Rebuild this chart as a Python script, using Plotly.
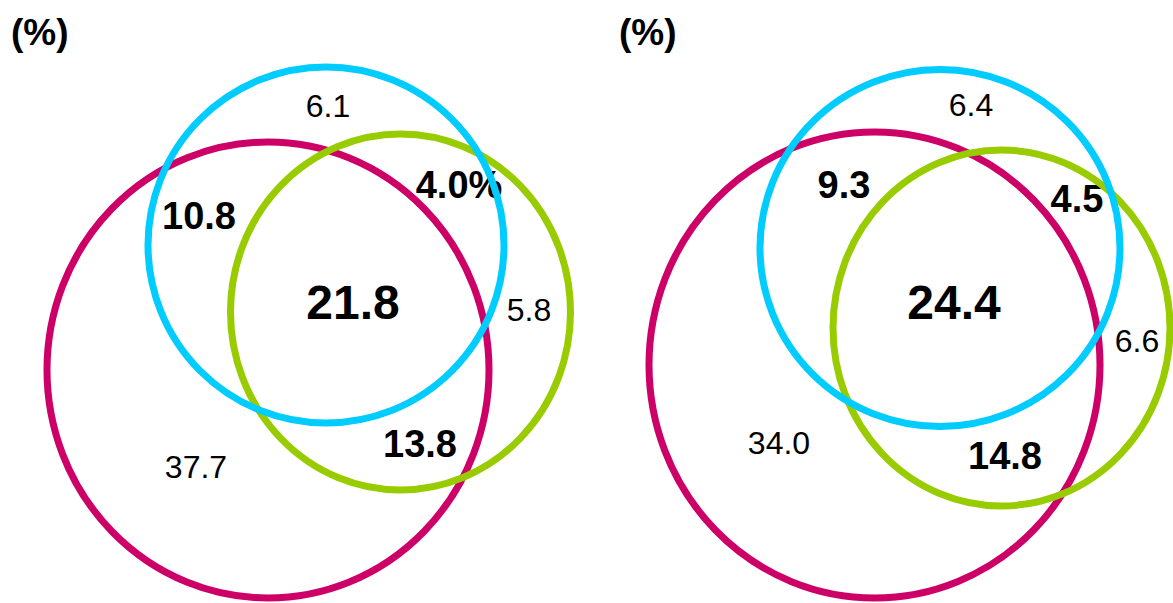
import plotly.graph_objects as go

# ---------------- data ----------------
region_keys = ["magenta_only", "cyan_only", "green_only",
               "magenta_cyan", "magenta_green", "cyan_green", "all_three"]
left_values = [37.7, 6.1, 5.8, 10.8, 13.8, 4.0, 21.8]
right_values = [34.0, 6.4, 6.6, 9.3, 14.8, 4.5, 24.4]
left_suffix = ["", "", "", "", "", "%", ""]
right_suffix = ["", "", "", "", "", "", ""]
unit_label = "(%)"

# ---------------- layout / geometry (pixels) ----------------
W, H = 1173, 603
set_colors = ["#CC0066", "#00CCFF", "#99CC00"]  # magenta, cyan, green
# circle geometry per panel: (cx, cy, rx, ry) for magenta, cyan, green
left_circles = [(268, 370, 221, 228), (326, 245, 178, 178), (400.5, 312, 170, 178)]
right_circles = [(874.5, 365, 225.5, 233), (940, 248, 180, 178.5), (1001.5, 328, 168.5, 178)]
left_label_xy = [(196, 470), (328, 109), (529, 313), (199, 219), (420, 447), (459, 188), (353, 307)]
right_label_xy = [(779, 446), (971, 108), (1137, 344), (844, 188), (1005, 459), (1077, 202), (954, 307)]
region_bold = [False, False, False, True, True, True, True]
region_size = [32, 32, 32, 38, 38, 38, 48]
unit_xy = [(40, 32), (648, 32)]

FONT = "Liberation Sans, Arial, sans-serif"

fig = go.Figure()

shapes = []
for circles in (left_circles, right_circles):
    for (cx, cy, rx, ry), col in zip([circles[0], circles[2], circles[1]],
                                     [set_colors[0], set_colors[2], set_colors[1]]):
        shapes.append(dict(type="circle", xref="x", yref="y",
                           x0=cx - rx, x1=cx + rx, y0=cy - ry, y1=cy + ry,
                           line=dict(color=col, width=7), fillcolor="rgba(0,0,0,0)",
                           layer="above"))

for values, suffix, xy in ((left_values, left_suffix, left_label_xy),
                           (right_values, right_suffix, right_label_xy)):
    texts = []
    for v, s, b in zip(values, suffix, region_bold):
        t = f"{v:.1f}{s}"
        texts.append(f"<b>{t}</b>" if b else t)
    fig.add_trace(go.Scatter(
        x=[p[0] for p in xy], y=[p[1] for p in xy], mode="text",
        text=texts, textposition="middle center",
        textfont=dict(family=FONT, size=region_size, color="#000000"),
        hoverinfo="skip", showlegend=False))

annotations = [dict(x=x, y=y, xref="x", yref="y", text=f"<b>{unit_label}</b>",
                    showarrow=False, font=dict(family=FONT, size=37, color="#000000"))
               for x, y in unit_xy]

fig.update_layout(
    width=W, height=H, margin=dict(l=0, r=0, t=0, b=0),
    paper_bgcolor="white", plot_bgcolor="white",
    xaxis=dict(range=[0, W], visible=False, fixedrange=True),
    yaxis=dict(range=[H, 0], visible=False, fixedrange=True),
    shapes=shapes, annotations=annotations, showlegend=False,
)
fig.write_html("out.html", config={"displayModeBar": False},
               post_script="document.body.style.margin='0';document.body.style.overflow='hidden';")
